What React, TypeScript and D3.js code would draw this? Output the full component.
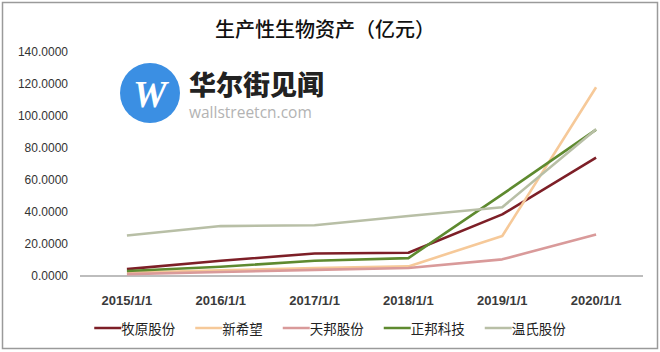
import * as d3 from 'd3'
import { useEffect, useRef } from 'react'

const years = ['2015/1/1', '2016/1/1', '2017/1/1', '2018/1/1', '2019/1/1', '2020/1/1']
const yTicks = [0, 20, 40, 60, 80, 100, 120, 140]

const seriesNames = ['牧原股份', '新希望', '天邦股份', '正邦科技', '温氏股份']
const seriesColors = ['#7d1f27', '#f6c999', '#d99a9a', '#5e8a2f', '#b8bfa6']

const muyuan = [4.3, 9.5, 14.1, 14.5, 38.5, 74]
const xinxiwang = [2, 3.5, 5, 6, 25, 118]
const tianbang = [1.2, 2.5, 3.8, 5, 10.4, 26]
const zhengbang = [3.1, 5.8, 9.5, 11.2, 51, 91.5]
const wenshi = [25.3, 31.2, 31.7, 37.5, 43, 91.7]

const seriesValues = [muyuan, xinxiwang, tianbang, zhengbang, wenshi]

const App = () => {
  const ref = useRef<SVGSVGElement>(null)

  useEffect(() => {
    const svg = d3.select(ref.current)
    svg.selectAll('*').remove()

    const width = 660
    const height = 352
    const cjk = '"Noto Sans CJK SC", "Noto Sans", sans-serif'

    svg.append('rect')
      .attr('width', width)
      .attr('height', height)
      .attr('fill', '#fff')

    // outer frame
    svg.append('rect')
      .attr('x', 2.5)
      .attr('y', 2.5)
      .attr('width', 655)
      .attr('height', 346)
      .attr('fill', 'none')
      .attr('stroke', '#9a9a9a')
      .attr('stroke-width', 1.5)

    svg.append('text')
      .attr('x', 325)
      .attr('y', 28)
      .attr('text-anchor', 'middle')
      .attr('dominant-baseline', 'central')
      .style('font-family', cjk)
      .style('font-size', '20px')
      .style('font-weight', 500)
      .attr('fill', '#111')
      .text('生产性生物资产（亿元）')

    const x = d3.scaleBand<string>().domain(years).range([80, 643])
    const y = d3.scaleLinear().domain([0, 140]).range([276, 52])

    // watermark logo
    const logo = svg.append('g')
    logo.append('circle')
      .attr('cx', 150)
      .attr('cy', 93)
      .attr('r', 30)
      .attr('fill', '#3b8fe3')
    logo.append('text')
      .attr('x', 150)
      .attr('y', 94)
      .attr('text-anchor', 'middle')
      .attr('dominant-baseline', 'central')
      .style('font-family', '"Liberation Serif", serif')
      .style('font-size', '38px')
      .style('font-weight', 'bold')
      .style('font-style', 'italic')
      .attr('fill', '#fff')
      .text('W')
    logo.append('text')
      .attr('x', 189)
      .attr('y', 83)
      .attr('dominant-baseline', 'central')
      .style('font-family', cjk)
      .style('font-size', '27px')
      .style('font-weight', 900)
      .attr('fill', '#222')
      .text('华尔街见闻')
    logo.append('text')
      .attr('x', 189)
      .attr('y', 112)
      .attr('dominant-baseline', 'central')
      .style('font-family', '"Open Sans", sans-serif')
      .style('font-size', '15.5px')
      .attr('fill', '#b3b3b3')
      .text('wallstreetcn.com')

    // y labels
    svg.append('g')
      .selectAll('text')
      .data(yTicks)
      .enter()
      .append('text')
      .attr('x', 68)
      .attr('y', (d) => y(d))
      .attr('text-anchor', 'end')
      .attr('dominant-baseline', 'central')
      .style('font-family', '"Liberation Sans", sans-serif')
      .style('font-size', '12px')
      .attr('fill', '#333')
      .text((d) => d3.format('.4f')(d))

    // x axis line
    svg.append('line')
      .attr('x1', 80)
      .attr('x2', 643)
      .attr('y1', y(0))
      .attr('y2', y(0))
      .attr('stroke', '#bdbdbd')
      .attr('stroke-width', 2)

    svg.append('g')
      .selectAll('text')
      .data(years)
      .enter()
      .append('text')
      .attr('x', (d) => (x(d) ?? 0) + x.bandwidth() / 2)
      .attr('y', 300)
      .attr('text-anchor', 'middle')
      .attr('dominant-baseline', 'central')
      .style('font-family', '"Liberation Sans", sans-serif')
      .style('font-size', '13px')
      .style('font-weight', 'bold')
      .attr('fill', '#3a3a3a')
      .text((d) => d)

    const line = d3.line<number>()
      .x((_d, i) => (x(years[i]) ?? 0) + x.bandwidth() / 2)
      .y((d) => y(d))

    seriesValues.forEach(function (vals, i) {
      svg.append('path')
        .datum(vals)
        .attr('d', line)
        .attr('fill', 'none')
        .attr('stroke', seriesColors[i])
        .attr('stroke-width', 2.6)
        .attr('stroke-linejoin', 'round')
    })

    // legend
    const fs = 13.5
    const lineLen = 27
    const gap = 20
    const widths = seriesNames.map((n) => lineLen + n.length * fs)
    const total = d3.sum(widths) + gap * (seriesNames.length - 1)
    let lx = 330 - total / 2
    const legend = svg.append('g')
    seriesNames.forEach(function (name, i) {
      legend.append('line')
        .attr('x1', lx)
        .attr('x2', lx + lineLen)
        .attr('y1', 328)
        .attr('y2', 328)
        .attr('stroke', seriesColors[i])
        .attr('stroke-width', 2.5)
      legend.append('text')
        .attr('x', lx + lineLen)
        .attr('y', 328)
        .attr('dominant-baseline', 'central')
        .style('font-family', cjk)
        .style('font-size', fs + 'px')
        .attr('fill', '#222')
        .text(name)
      lx += widths[i] + gap
    })
  }, [])

  return (
    <svg
      ref={ref}
      width={660}
      height={352}
      style={{ position: 'fixed', left: 0, top: 0, display: 'block' }}
    />
  )
}

export default App
